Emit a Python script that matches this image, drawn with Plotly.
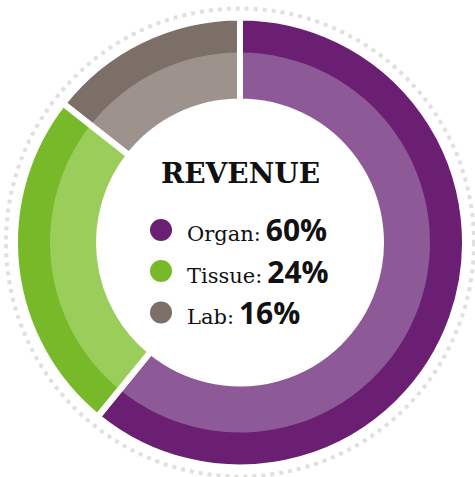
import plotly.graph_objects as go

categories = ["Organ", "Tissue", "Lab"]
label_pcts = [60, 24, 16]              # percentages printed in the centre
arc_shares = [60.9, 24.7, 14.4]         # arc sizes as drawn in the picture
dark_colors = ["#6a1f72", "#77b928", "#7b6f68"]
light_colors = ["#8d5997", "#9bcd5b", "#9d928c"]
title_text = "REVENUE"

W, H = 475, 477
CX, CY = 240, 242.5  # pixel centre (from top)
R_OUT, R_MID, R_IN = 225, 190, 141
R_DOTS = 234


def dom(r):
    return dict(
        x=[(CX - r) / W, (CX + r) / W],
        y=[(H - CY - r) / H, (H - CY + r) / H],
    )


fig = go.Figure()
common = dict(labels=categories, values=arc_shares, sort=False, direction="clockwise",
              rotation=0, textinfo="none", hoverinfo="label", showlegend=False)
fig.add_trace(go.Pie(**common, domain=dom(R_OUT), hole=R_IN / R_OUT,
                     marker=dict(colors=dark_colors, line=dict(width=0))))
fig.add_trace(go.Pie(**common, domain=dom(R_MID), hole=R_IN / R_MID,
                     marker=dict(colors=light_colors, line=dict(width=0))))
fig.add_trace(go.Pie(**common, domain=dom(R_OUT), hole=R_IN / R_OUT,
                     marker=dict(colors=["rgba(0,0,0,0)"] * 3,
                                 line=dict(color="white", width=6))))
fig.data[2].hoverinfo = "skip"

shapes = [dict(type="circle", xref="paper", yref="paper",
               x0=(CX - R_DOTS) / W, x1=(CX + R_DOTS) / W,
               y0=(H - CY - R_DOTS) / H, y1=(H - CY + R_DOTS) / H,
               line=dict(color="#e0e0e0", width=4, dash="4px,5px"), layer="below")]

annotations = [dict(text="<b>" + title_text + "</b>", x=240 / W, y=1 - 173 / H,
                    xref="paper", yref="paper", showarrow=False, xanchor="center",
                    yanchor="middle", font=dict(family="DejaVu Serif", size=28, color="#111111"))]

row_y = [230, 271, 312.5]
for cat, val, col, ry in zip(categories, label_pcts, dark_colors, row_y):
    r = 11
    shapes.append(dict(type="circle", xref="paper", yref="paper",
                       x0=(161 - r) / W, x1=(161 + r) / W,
                       y0=1 - (ry + r) / H, y1=1 - (ry - r) / H,
                       fillcolor=col, line=dict(width=0)))
    annotations.append(dict(
        text=(f"<span style='font-family:DejaVu Serif;font-size:21px'>{cat}:</span>"
              f"<span style='font-family:Open Sans;font-size:30px'>&#8201;<b>{val}%</b></span>"),
        x=185 / W, y=1 - ry / H, xref="paper", yref="paper", showarrow=False,
        xanchor="left", yanchor="middle", font=dict(family="Open Sans", size=21, color="#111111")))

fig.update_layout(width=W, height=H, margin=dict(l=0, r=0, t=0, b=0),
                  paper_bgcolor="white", plot_bgcolor="white",
                  shapes=shapes, annotations=annotations)
fig.write_html("out.html", config={"displayModeBar": False},
               post_script="document.body.style.margin='0px';")
